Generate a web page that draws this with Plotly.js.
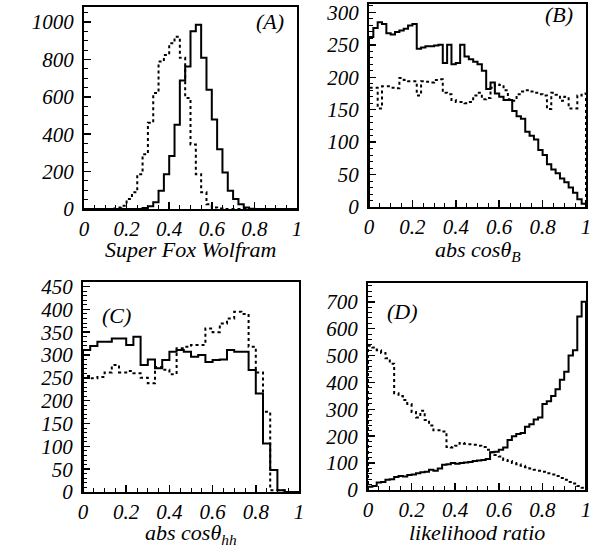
<!DOCTYPE html>
<html>
<head>
<meta charset="utf-8">
<script src="https://cdn.plot.ly/plotly-3.0.1.min.js"></script>
<style>html,body{margin:0;padding:0;background:#fff;}#chart{width:604px;height:553px;}</style>
</head>
<body>
<div id="chart"></div>
<script>
// Panel A: Super Fox Wolfram, 40 bins on [0,1]
const binsA = 40;
const solidA = [0,0,0,0,0,0,0,0,0,0,0,5,15,36,97,186,283,451,687,762,950,985,808,638,479,319,195,97,54,26,8,2,0,0,0,0,0,0,0,0];
const dottedA = [0,0,0,0,0,3,8,18,54,89,186,293,461,620,788,824,886,921,808,594,345,186,89,26,8,3,0,0,0,0,0,0,0,0,0,0,0,0,0,0];

// Panel B: abs cos theta_B, 50 bins on [0,1]
const binsB = 50;
const solidB = [262,276,285,282,268,266,270,272,275,280,282,244,246,248,248,249,250,222,250,220,222,250,232,228,224,220,210,182,192,175,170,165,165,148,140,136,116,110,104,88,80,66,58,52,44,38,30,22,12,5];
const dottedB = [184,184,152,186,186,184,183,199,196,194,194,172,194,193,192,196,197,176,174,165,162,162,160,162,172,176,166,168,184,189,188,180,166,164,174,178,180,178,176,174,172,151,176,173,164,170,152,152,172,175];

// Panel C: abs cos theta_hh, 30 bins on [0,1]
const binsC = 30;
const solidC = [311,320,329,329,336,336,322,340,278,290,271,289,307,311,307,296,300,285,289,290,311,307,307,267,216,106,48,4,0,0];
const dottedC = [254,249,252,262,278,262,265,260,250,238,274,268,258,315,318,322,322,358,350,369,380,395,390,318,262,176,4,4,0,0];

// Panel D: likelihood ratio, 50 bins on [0,1]
const binsD = 50;
const solidD = [12,15,28,30,38,40,48,52,50,56,58,62,66,68,75,72,80,94,96,100,98,100,102,104,108,110,112,115,140,142,150,158,186,200,208,212,235,245,262,270,320,330,350,375,410,440,500,520,645,700];
const dottedD = [537,530,520,510,490,470,360,350,335,320,290,270,295,260,240,222,222,218,160,158,165,175,172,170,168,165,160,150,140,130,125,112,108,100,96,90,85,80,75,72,68,62,58,52,45,38,30,24,15,8];

// Tick labels
const xTickVals = [0, 0.2, 0.4, 0.6, 0.8, 1];
const xTickText = ["0", "0.2", "0.4", "0.6", "0.8", "1"];
const yTickValsA = [0, 200, 400, 600, 800, 1000];
const yTickValsB = [0, 50, 100, 150, 200, 250, 300];
const yTickValsC = [0, 50, 100, 150, 200, 250, 300, 350, 400, 450];
const yTickValsD = [0, 100, 200, 300, 400, 500, 600, 700];

const panelLabels = ["(A)", "(B)", "(C)", "(D)"];
const xTitles = ["Super Fox Wolfram", "abs cosθ<sub>B</sub>", "abs cosθ<sub>hh</sub>", "likelihood ratio"];
const yTickVals = [yTickValsA, yTickValsB, yTickValsC, yTickValsD];
const yRanges = [[0, 1080], [0, 313], [0, 460], [0, 770]];
const yMinor = [50, 10, 10, 20];

function stepXY(counts, nbins) {
  const w = 1 / nbins;
  const xs = [0], ys = [0];
  for (let i = 0; i < nbins; i++) { xs.push(i * w); ys.push(counts[i]); }
  xs.push(1); ys.push(counts[nbins - 1]);
  xs.push(1); ys.push(0);
  return {x: xs, y: ys};
}

const sets = [[solidA, dottedA, binsA], [solidB, dottedB, binsB], [solidC, dottedC, binsC], [solidD, dottedD, binsD]];
const axIds = [["x", "y"], ["x2", "y2"], ["x3", "y3"], ["x4", "y4"]];
const traces = [];
sets.forEach((s, k) => {
  const a = stepXY(s[0], s[2]);
  const b = stepXY(s[1], s[2]);
  traces.push({type: "scatter", mode: "lines", x: a.x, y: a.y, xaxis: axIds[k][0], yaxis: axIds[k][1],
    line: {shape: "hv", color: "#000", width: 2}, hoverinfo: "skip", showlegend: false});
  traces.push({type: "scatter", mode: "lines", x: b.x, y: b.y, xaxis: axIds[k][0], yaxis: axIds[k][1],
    line: {shape: "hv", color: "#000", width: 2, dash: "3px,3px"}, hoverinfo: "skip", showlegend: false});
});

const W = 604, H = 553;
// pixel boxes [left, right, top, bottom]
const boxes = [[84, 297, 7, 209], [369, 586, 4, 207], [83, 299, 282, 492], [368, 586, 283, 490]];
const titleTop = [235, 235, 518, 518];
const FAM = "Liberation Serif";
const font = {family: FAM, size: 21, color: "#000", style: "italic"};

const layout = {
  width: W, height: H,
  margin: {l: 0, r: 0, t: 0, b: 0},
  paper_bgcolor: "#fff", plot_bgcolor: "#fff",
  showlegend: false,
  annotations: []
};
boxes.forEach((bx, k) => {
  const xs = k === 0 ? "" : String(k + 1);
  layout["xaxis" + xs] = {
    domain: [bx[0] / W, bx[1] / W], anchor: "y" + xs, range: [0, 1],
    tickvals: xTickVals, ticktext: xTickText,
    ticks: "inside", ticklen: 7, tickwidth: 1.5, tickcolor: "#000",
    minor: {dtick: 0.05, ticks: "inside", ticklen: 4, tickwidth: 1, tickcolor: "#000"},
    showline: true, mirror: true, linecolor: "#000", linewidth: 2,
    showgrid: false, zeroline: false, tickfont: font, ticklabeloverflow: "allow"
  };
  layout["yaxis" + xs] = {
    domain: [1 - bx[3] / H, 1 - bx[2] / H], anchor: "x" + xs, range: yRanges[k],
    tickvals: yTickVals[k], ticktext: yTickVals[k].map(String),
    ticks: "inside", ticklen: 7, tickwidth: 1.5, tickcolor: "#000",
    minor: {dtick: yMinor[k], tick0: 0, ticks: "inside", ticklen: 4, tickwidth: 1, tickcolor: "#000"},
    showline: true, mirror: true, linecolor: "#000", linewidth: 2,
    showgrid: false, zeroline: false, tickfont: font, ticklabelstandoff: 4, ticklabeloverflow: "allow"
  };
  // axis title as annotation placed under the tick labels
  layout.annotations.push({
    text: xTitles[k], xref: "x" + xs + " domain", yref: "paper",
    x: 0.5, y: 1 - titleTop[k] / H, xanchor: "center", yanchor: "top",
    showarrow: false, font: {family: FAM, size: 22, color: "#000", style: "italic"}
  });
});
const labelPos = [[0.95, 0.93, "right"], [0.95, 0.95, "right"], [0.08, 0.84, "left"], [0.08, 0.86, "left"]];
panelLabels.forEach((t, k) => {
  const xs = k === 0 ? "" : String(k + 1);
  layout.annotations.push({
    text: t, xref: "x" + xs + " domain", yref: "y" + xs + " domain",
    x: labelPos[k][0], y: labelPos[k][1], xanchor: labelPos[k][2], yanchor: "middle",
    showarrow: false, font: {family: FAM, size: 22, color: "#000", style: "italic"}
  });
});

Plotly.newPlot("chart", traces, layout, {staticPlot: true, displayModeBar: false});
</script>
</body>
</html>
